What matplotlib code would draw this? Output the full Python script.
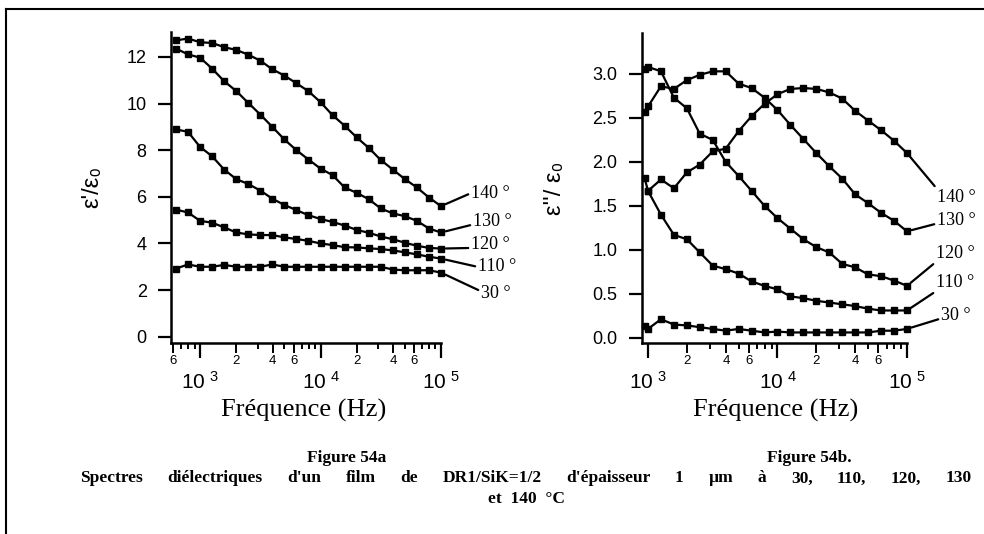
import numpy as np
import matplotlib
matplotlib.use('Agg')
import matplotlib.pyplot as plt
from matplotlib.lines import Line2D

plt.rcParams['font.family'] = ['Liberation Sans', 'DejaVu Sans']

# ── Data ─────────────────────────────────────────────────────────────────────
# Figure 54a : real part eps'/eps0, 10 points per decade
freq_a = [631, 794, 1000, 1259, 1585, 1995, 2512, 3162, 3981, 5012, 6310, 7943,
          10000, 12589, 15849, 19953, 25119, 31623, 39811, 50119, 63096, 79433, 100000]
eps1_140 = [12.71, 12.79, 12.63, 12.60, 12.42, 12.30, 12.10, 11.84, 11.47, 11.20, 10.87, 10.53,
            10.06, 9.50, 9.05, 8.55, 8.10, 7.58, 7.17, 6.76, 6.40, 5.97, 5.60]
eps1_130 = [12.36, 12.11, 11.97, 11.50, 10.96, 10.54, 10.03, 9.53, 9.00, 8.46, 8.00, 7.60,
            7.21, 6.93, 6.40, 6.17, 5.90, 5.50, 5.29, 5.17, 4.97, 4.64, 4.47]
eps1_120 = [8.89, 8.79, 8.14, 7.74, 7.17, 6.76, 6.55, 6.27, 5.92, 5.65, 5.43, 5.21,
            5.05, 4.92, 4.77, 4.58, 4.46, 4.30, 4.18, 4.03, 3.90, 3.81, 3.78]
eps1_110 = [5.45, 5.33, 4.97, 4.89, 4.69, 4.47, 4.39, 4.36, 4.36, 4.26, 4.19, 4.11,
            4.00, 3.93, 3.84, 3.83, 3.79, 3.76, 3.70, 3.62, 3.53, 3.43, 3.35]
eps1_30 = [2.92, 3.10, 3.00, 3.00, 3.08, 3.00, 3.00, 3.00, 3.10, 3.00, 3.00, 3.00,
           3.00, 3.00, 3.00, 3.00, 3.00, 3.00, 2.88, 2.85, 2.85, 2.85, 2.75]

# Figure 54b : imaginary part eps''/eps0
freq_b = [940, 1000, 1259, 1585, 1995, 2512, 3162, 3981, 5012, 6310, 7943,
          10000, 12589, 15849, 19953, 25119, 31623, 39811, 50119, 63096, 79433, 100000]
eps2_140 = [np.nan, 1.67, 1.80, 1.70, 1.88, 1.97, 2.12, 2.15, 2.35, 2.52, 2.66,
            2.77, 2.83, 2.84, 2.83, 2.79, 2.72, 2.58, 2.47, 2.36, 2.24, 2.10]
eps2_130 = [2.57, 2.63, 2.86, 2.83, 2.93, 2.99, 3.03, 3.03, 2.89, 2.84, 2.73,
            2.59, 2.42, 2.26, 2.10, 1.95, 1.81, 1.63, 1.53, 1.42, 1.33, 1.21]
eps2_120 = [3.06, 3.08, 3.03, 2.73, 2.61, 2.32, 2.25, 2.00, 1.84, 1.67, 1.50,
            1.36, 1.24, 1.12, 1.03, 0.97, 0.84, 0.80, 0.72, 0.70, 0.65, 0.59]
eps2_110 = [1.82, 1.67, 1.40, 1.17, 1.12, 0.97, 0.82, 0.78, 0.73, 0.64, 0.59,
            0.55, 0.47, 0.45, 0.42, 0.40, 0.38, 0.36, 0.33, 0.31, 0.31, 0.31]
eps2_30 = [0.13, 0.10, 0.21, 0.15, 0.14, 0.12, 0.10, 0.08, 0.10, 0.08, 0.06,
           0.07, 0.06, 0.06, 0.06, 0.06, 0.06, 0.06, 0.06, 0.08, 0.08, 0.10]

temp_labels = ['140 °', '130 °', '120 °', '110 °', '30 °']

# label offsets (points) from the last data point: (dx, dy, relpos)
offs_a = [(21.6, 9.4, (0, 0.5)), (23.0, 8.2, (0, 0.3)), (21.6, 2.9, (0, 0.3)),
          (26.6, -6.0, (0, 0.5)), (28.8, -14.7, (0, 0.6))]
offs_b = [(21.6, -31.9, (0, 1.0)), (21.6, 8.1, (0, 0.3)), (20.9, 23.4, (0, 0.0)),
          (20.9, 20.0, (0, 0.0)), (24.5, 10.0, (0, 0.3))]

W, H = 984, 534
fig = plt.figure(figsize=(W / 100, H / 100), dpi=100)


def px_axes(x0, y0, x1, y1):
    return fig.add_axes([x0 / W, 1 - y1 / H, (x1 - x0) / W, (y1 - y0) / H])


def style(ax, xlim, ylim, yticks, yfmt, minor_pos, minor_lab):
    ax.set_xscale('log')
    ax.set_xlim(*xlim)
    ax.set_ylim(*ylim)
    for s in ['top', 'right']:
        ax.spines[s].set_visible(False)
    for s in ['left', 'bottom']:
        ax.spines[s].set_linewidth(1.8)
    ax.set_yticks(yticks)
    ax.set_yticklabels([yfmt % v for v in yticks])
    ax.tick_params(axis='y', length=9.5, width=1.6, pad=8, labelsize=13)
    ax.set_xticks([1e3, 1e4, 1e5])
    ax.set_xticklabels([r'$\mathregular{10^{\ %d}}$' % e for e in (3, 4, 5)])
    ax.tick_params(axis='x', which='major', length=11, width=1.6, pad=9, labelsize=15)
    ax.set_xticks(minor_pos, minor=True)
    ax.set_xticklabels(minor_lab, minor=True)
    ax.tick_params(axis='x', which='minor', length=4.5, width=1.4, pad=4, labelsize=9.5)
    for t, lab in zip(ax.xaxis.get_minor_ticks(), minor_lab):
        if lab:
            t.tick1line.set_markersize(7.5)


def curves(ax, freq, series, offs):
    for vals, lab, (dx, dy, rp) in zip(series, temp_labels, offs):
        ax.plot(freq, vals, '-s', color='k', lw=1.6, ms=3.8, clip_on=False)
        ax.annotate(lab, xy=(freq[-1], vals[-1]), xytext=(dx, dy),
                    textcoords='offset points', ha='left', va='center',
                    family='Liberation Serif', fontsize=13, annotation_clip=False,
                    arrowprops=dict(arrowstyle='-', color='k', lw=1.6,
                                    shrinkA=0, shrinkB=3.5, relpos=rp))


# ── Figure 54a ───────────────────────────────────────────────────────────────
ax_a = px_axes(171, 32, 441, 343)
minor_a = [600, 700, 800, 900] + [m * 10 ** d for d in (3, 4) for m in range(2, 10)]
lab_a = [str(int(v))[0] if str(int(v))[0] in '246' else '' for v in minor_a]
style(ax_a, (574, 1e5), (-0.27, 13.07), list(range(0, 13, 2)), '%d', minor_a, lab_a)
curves(ax_a, freq_a, [eps1_140, eps1_130, eps1_120, eps1_110, eps1_30], offs_a)
ax_a.set_ylabel("ε'/ε₀", fontsize=17)
ax_a.yaxis.set_label_coords(-0.25, 0.5)
ax_a.set_xlabel('Fréquence (Hz)', family='Liberation Serif', fontsize=19)
ax_a.xaxis.set_label_coords(0.49, -0.18)

# ── Figure 54b ───────────────────────────────────────────────────────────────
ax_b = px_axes(641.5, 33, 907, 343)
minor_b = [m * 10 ** d for d in (3, 4) for m in range(2, 10)]
lab_b = [str(int(v))[0] if str(int(v))[0] in '246' else '' for v in minor_b]
style(ax_b, (891, 1e5), (-0.06, 3.466), [0, 0.5, 1.0, 1.5, 2.0, 2.5, 3.0], '%.1f',
      minor_b, lab_b)
curves(ax_b, freq_b, [eps2_140, eps2_130, eps2_120, eps2_110, eps2_30], offs_b)
ax_b.set_ylabel("ε''/ ε₀", fontsize=17)
ax_b.yaxis.set_label_coords(-0.285, 0.5)
ax_b.set_xlabel('Fréquence (Hz)', family='Liberation Serif', fontsize=19)
ax_b.xaxis.set_label_coords(0.507, -0.18)

# ── Captions ─────────────────────────────────────────────────────────────────
cap = dict(family='Liberation Serif', fontweight='bold', fontsize=12.5, va='center')
fig.text(347 / W, 1 - 458 / H, 'Figure 54a', ha='center', **cap)
fig.text(809 / W, 1 - 458 / H, 'Figure 54b.', ha='center', **cap)
fig.text(527 / W, 1 - 499 / H, 'et  140  °C', ha='center', **cap)

words = "Spectres diélectriques d'un film de DR1/SiK=1/2 d'épaisseur 1 µm à 30, 110, 120, 130".split()
r = fig.canvas.get_renderer()
txts = [fig.text(0, 1 - 478.5 / H, w, ha='left', **cap) for w in words]
widths = [t.get_window_extent(r).width for t in txts]
x0, x1 = 80, 972
gap = (x1 - x0 - sum(widths)) / (len(words) - 1)
x = x0
for t, w in zip(txts, widths):
    t.set_x(x / W)
    x += w + gap

# page frame
fig.add_artist(Line2D([6 / W, 1], [1 - 9 / H, 1 - 9 / H], transform=fig.transFigure,
                      color='k', lw=1.5))
fig.add_artist(Line2D([6 / W, 6 / W], [0, 1 - 9 / H], transform=fig.transFigure,
                      color='k', lw=1.5))

fig.savefig('out.png', dpi=100)
